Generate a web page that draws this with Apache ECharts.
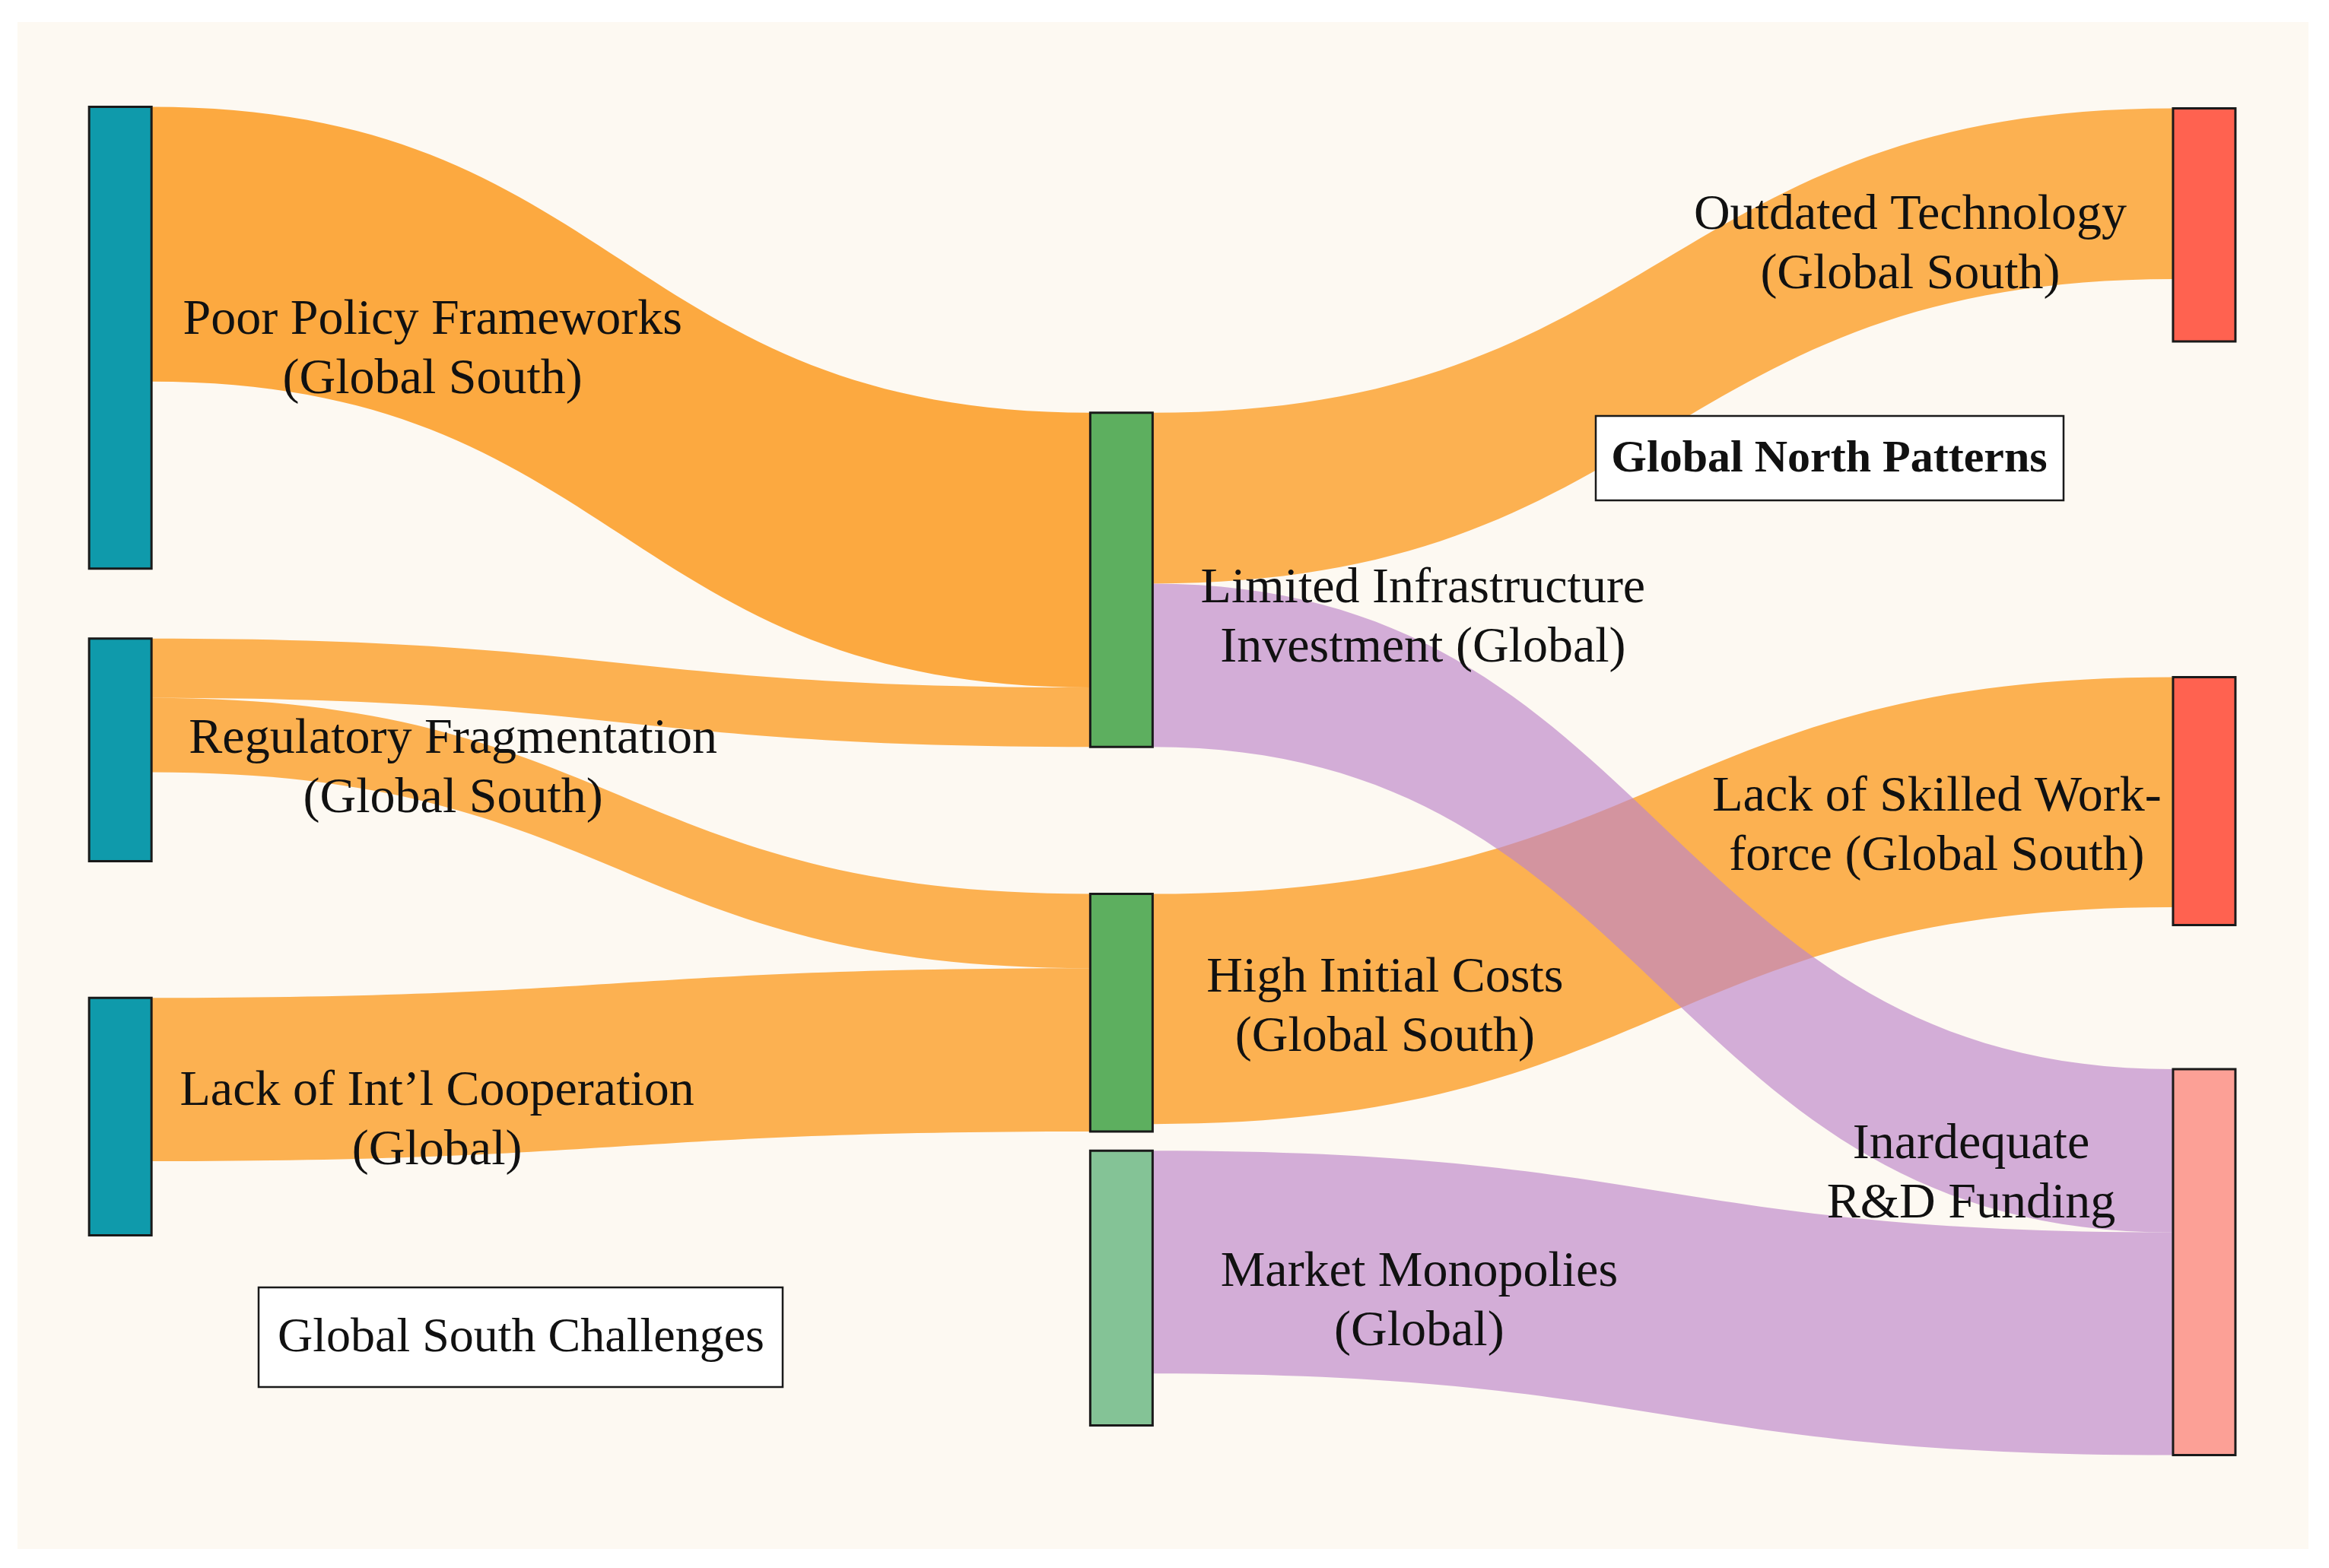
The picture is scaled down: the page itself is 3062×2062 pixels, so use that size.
<!DOCTYPE html>
<html>
<head>
<meta charset="utf-8">
<script src="https://cdn.jsdelivr.net/npm/echarts@6/dist/echarts.min.js"></script>
<style>
html, body { margin: 0; padding: 0; background: #ffffff; }
#sankey { width: 3062px; height: 2062px; }
</style>
</head>
<body>
<div id="sankey"></div>
<script>
// nodes
const nodeNames = [
    'Poor Policy Frameworks\n(Global South)',
    'Regulatory Fragmentation\n(Global South)',
    'Lack of Int\u2019l Cooperation\n(Global)',
    'Limited Infrastructure\nInvestment (Global)',
    'High Initial Costs\n(Global South)',
    'Market Monopolies\n(Global)',
    'Outdated Technology\n(Global South)',
    'Lack of Skilled Work-\nforce (Global South)',
    'Inardequate\nR&D Funding'
];
const nodeValues = [311, 150, 160, 205, 137, 185, 157, 167, 255];
const nodeDepths = [0, 0, 0, 1, 1, 1, 2, 2, 2];

// links
const linkSources = [0, 1, 1, 2, 3, 4, 3, 5];
const linkTargets = [3, 3, 4, 4, 6, 7, 8, 8];
const linkValues = [185, 40, 50, 110, 115, 155, 110, 150];

const boxTitles = ['Global North Patterns', 'Global South Challenges'];

// ---- layout / styling ----
const W = 3062, H = 2062;
const FONT = "'Liberation Serif', 'DejaVu Serif', serif";
// node placement (left / top in px of a 1568x1056 sketch)
const nodeLeft = [60, 60, 60, 734, 734, 734, 1463, 1463, 1463];
const nodeTop = [72, 430, 672, 278, 602, 775, 73, 456, 720];
const nodeColors = ['#0f9aab', '#0f9aab', '#0f9aab', '#5daf5f', '#5daf5f', '#84c396', '#ff6250', '#ff6250', '#fca096'];
const labelPos = [[453, 322], [480, 174], [459, 164], [439, 272], [389, 152], [434, 201], [-344, 182], [-309, 199], [-264, 140]];

const nodes = nodeNames.map((name, i) => ({
    name: name,
    value: nodeValues[i],
    depth: nodeDepths[i],
    localX: nodeLeft[i] / 1568,
    localY: nodeTop[i] / 1056,
    itemStyle: { color: nodeColors[i] },
    label: { position: labelPos[i] }
}));

const links = linkSources.map((s, i) => {
    const purple = nodeDepths[s] === 1 && linkTargets[i] === 8;
    return {
        source: nodeNames[s],
        target: nodeNames[linkTargets[i]],
        value: linkValues[i],
        lineStyle: purple
            ? { color: '#bd86c8', opacity: 0.66 }
            : { color: '#fb9a1e', opacity: i === 0 ? 0.84 : 0.76 }
    };
});
// purple flows drawn last so they sit over the orange ones
links.sort((a, b) => (a.lineStyle.color === '#bd86c8') - (b.lineStyle.color === '#bd86c8'));

const chart = echarts.init(document.getElementById('sankey'));

// column 1 decides the scale: (H - 2*gap) / 621 = 1.9527 px per unit
const option = {
    backgroundColor: '#ffffff',
    animation: false,
    graphic: [
        {
            type: 'rect', z: -10, silent: true,
            shape: { x: 23, y: 29, width: 3012, height: 2008 },
            style: { fill: '#fdf9f2' }
        },
        {
            type: 'rect', z: 50,
            shape: { x: 2098, y: 547, width: 615, height: 111 },
            style: { fill: '#ffffff', stroke: '#1a1a1a', lineWidth: 2.5 }
        },
        {
            type: 'text', z: 51,
            x: 2405, y: 604,
            style: {
                text: boxTitles[0], fill: '#111', textAlign: 'center', textVerticalAlign: 'middle',
                font: 'bold 60px ' + FONT
            }
        },
        {
            type: 'rect', z: 50,
            shape: { x: 340, y: 1693, width: 689, height: 131 },
            style: { fill: '#ffffff', stroke: '#1a1a1a', lineWidth: 2.5 }
        },
        {
            type: 'text', z: 51,
            x: 685, y: 1760,
            style: {
                text: boxTitles[1], fill: '#111', textAlign: 'center', textVerticalAlign: 'middle',
                font: '64px ' + FONT
            }
        }
    ],
    series: [
        {
            type: 'sankey',
            left: 0,
            top: 0,
            width: W,
            height: H,
            nodeWidth: 82,
            nodeGap: 424.7,
            layoutIterations: 0,
            draggable: false,
            emphasis: { disabled: true },
            itemStyle: {
                borderColor: '#1a1a1a',
                borderWidth: 3
            },
            lineStyle: {
                curveness: 0.5
            },
            label: {
                show: true,
                color: '#111',
                fontFamily: FONT,
                fontSize: 66,
                lineHeight: 78,
                align: 'center',
                verticalAlign: 'middle'
            },
            data: nodes,
            links: links
        }
    ]
};

option && chart.setOption(option);
</script>
</body>
</html>
